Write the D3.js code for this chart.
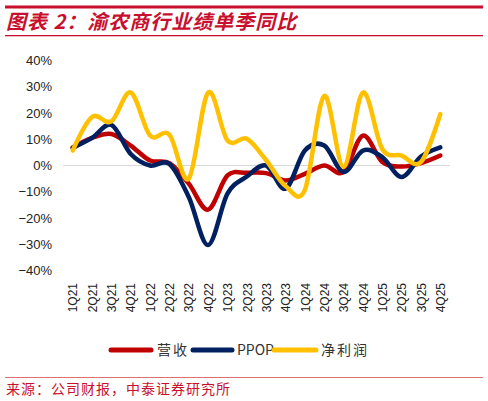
<!DOCTYPE html>
<html>
<head>
<meta charset="utf-8">
<script src="https://cdn.jsdelivr.net/npm/d3@7"></script>
<style>
  body { margin: 0; background: #fff; }
  svg { display: block; }
</style>
</head>
<body>
<svg id="chart" width="488" height="401"></svg>
<script>
// quarters on the x axis
const quarters = ["1Q21","2Q21","3Q21","4Q21","1Q22","2Q22","3Q22","4Q22","1Q23","2Q23",
                  "3Q23","4Q23","1Q24","2Q24","3Q24","4Q24","1Q25","2Q25","3Q25","4Q25"];
// single-quarter YoY growth, %
const revenue = [6.9, 10.5, 12.0, 7.6, 1.9, 0.9, -6.9, -16.8, -3.8, -2.8,
                 -2.9, -5.7, -3.2, 0.0, -2.5, 11.4, 1.3, -0.4, 0.9, 3.8];
const ppop    = [6.7, 10.5, 15.5, 4.4, 0.0, 0.6, -12.0, -30.3, -10.7, -4.2,
                 0.0, -8.8, 5.7, 7.6, -2.5, 5.7, 3.2, -4.4, 3.4, 6.9];
const netProfit = [5.7, 18.5, 16.8, 27.8, 11.4, 11.7, -5.0, 27.8, 9.5, 10.2,
                   2.0, -7.8, -9.3, 26.5, -0.6, 27.8, 6.3, 3.8, 1.3, 19.6];
const yTicks = [40, 30, 20, 10, 0, -10, -20, -30, -40];

const seriesNames = ["营收", "PPOP", "净利润"];
const seriesColors = ["#C00000", "#002060", "#FFC000"];
const seriesData = [revenue, ppop, netProfit];

const svg = d3.select("#chart");
const red = "#C8102E";

// header rules and title
svg.append("rect").attr("x", 5).attr("y", 5.5).attr("width", 478).attr("height", 3).attr("fill", red);
svg.append("rect").attr("x", 5).attr("y", 35).attr("width", 478).attr("height", 1.3).attr("fill", red);
svg.append("text")
  .attr("x", 6).attr("y", 29)
  .attr("fill", red)
  .attr("font-family", "'Noto Sans CJK SC', sans-serif")
  .attr("font-size", 20)
  .attr("font-style", "italic")
  .attr("font-weight", "bold")
  .attr("letter-spacing", 1)
  .text("图表 2：渝农商行业绩单季同比");

// scales
const x = d3.scalePoint().domain(quarters).range([63, 450]).padding(0.5);
const y = d3.scaleLinear().domain([-40, 40]).range([270.5, 60.5]);

// zero line
svg.append("line")
  .attr("x1", 63).attr("x2", 450)
  .attr("y1", y(0)).attr("y2", y(0))
  .attr("stroke", "#D9D9D9").attr("stroke-width", 1);

// y axis labels
const yAxis = d3.axisLeft(y).tickValues(yTicks).tickSize(0).tickPadding(0)
  .tickFormat(d => (d < 0 ? "\u2212" + Math.abs(d) : d) + "%");
const gy = svg.append("g").attr("transform", "translate(52,0)").call(yAxis);
gy.select(".domain").remove();
gy.selectAll("text")
  .attr("font-family", "'Liberation Sans', Arial, sans-serif")
  .attr("font-size", 13)
  .attr("fill", "#222");

// x axis labels (rotated)
const xAxis = d3.axisBottom(x).tickSize(0).tickPadding(0);
const gx = svg.append("g").attr("transform", "translate(0,283)").call(xAxis);
gx.select(".domain").remove();
gx.selectAll("text")
  .attr("font-family", "'Liberation Sans', Arial, sans-serif")
  .attr("font-size", 12)
  .attr("fill", "#222")
  .attr("text-anchor", "end")
  .attr("dy", "0.35em")
  .attr("transform", "rotate(-90)")
  .attr("x", 0).attr("y", 0);

// lines
const line = d3.line()
  .x((d, i) => x(quarters[i]))
  .y(d => y(d))
  .curve(d3.curveCardinal.tension(0));

seriesData.forEach((s, k) => {
  svg.append("path")
    .datum(s)
    .attr("d", line)
    .attr("fill", "none")
    .attr("stroke", seriesColors[k])
    .attr("stroke-width", 4.5)
    .attr("stroke-linejoin", "round")
    .attr("stroke-linecap", "round");
});

// legend
const legendItems = [
  { x1: 111, x2: 151, tx: 157 },
  { x1: 193, x2: 232, tx: 237 },
  { x1: 274, x2: 316, tx: 321 }
];
legendItems.forEach((p, k) => {
  svg.append("line")
    .attr("x1", p.x1).attr("x2", p.x2).attr("y1", 350).attr("y2", 350)
    .attr("stroke", seriesColors[k]).attr("stroke-width", 5)
    .attr("stroke-linecap", "round");
  svg.append("text")
    .attr("x", p.tx).attr("y", 355)
    .attr("font-family", "'Noto Sans CJK SC', sans-serif")
    .attr("font-size", 14)
    .attr("letter-spacing", k === 1 ? 0 : 2)
    .attr("fill", "#333")
    .text(seriesNames[k]);
});

// source
svg.append("rect").attr("x", 5).attr("y", 377).attr("width", 478).attr("height", 1).attr("fill", "#E07070");
svg.append("text")
  .attr("x", 6).attr("y", 394)
  .attr("font-family", "'Noto Sans CJK SC', sans-serif")
  .attr("font-size", 14)
  .attr("letter-spacing", 1)
  .attr("fill", red)
  .text("来源：公司财报，中泰证券研究所");
</script>
</body>
</html>
